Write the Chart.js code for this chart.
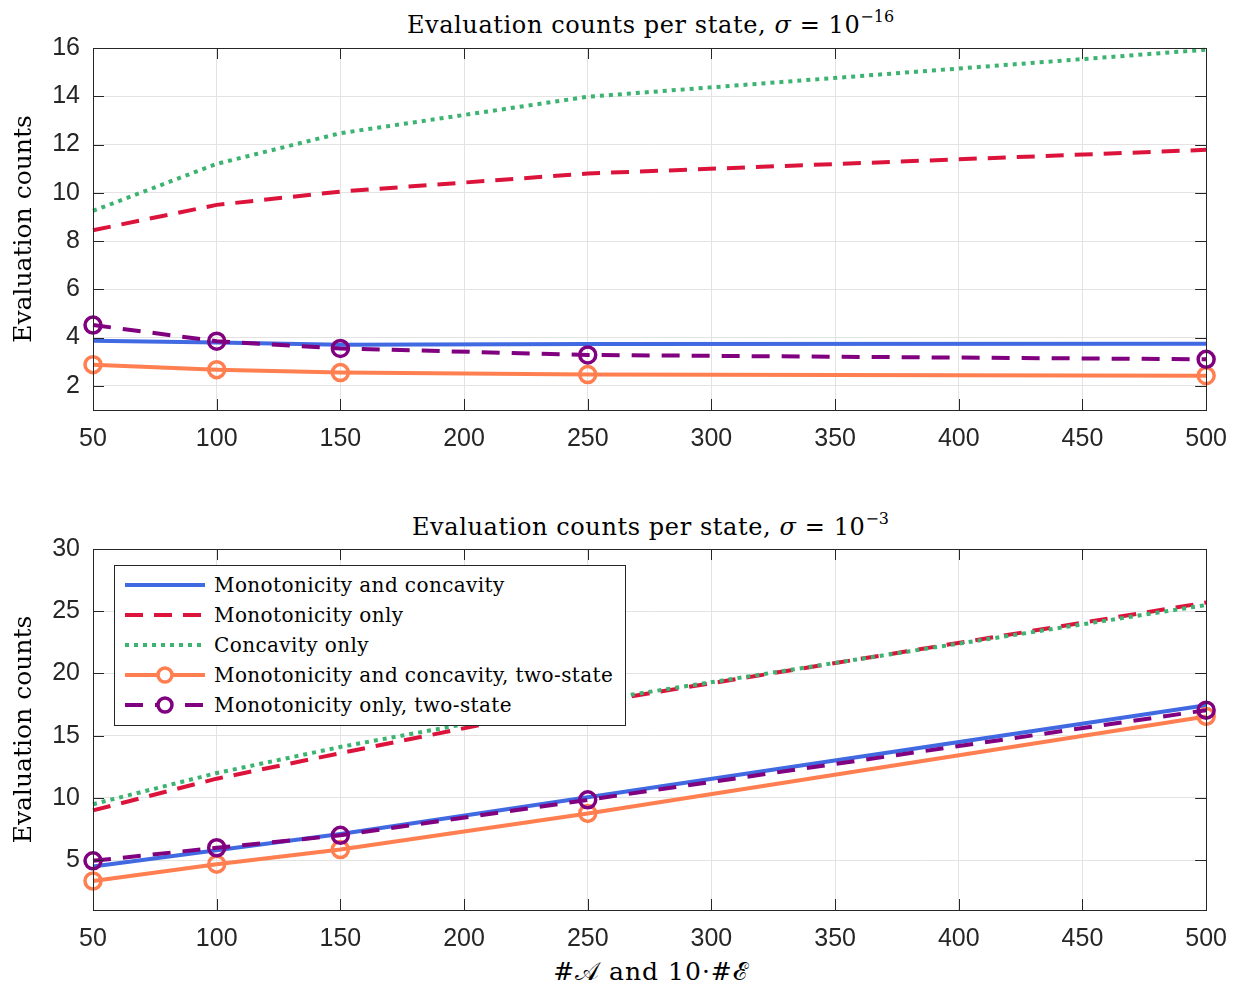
<!DOCTYPE html>
<html>
<head>
<meta charset="utf-8">
<script src="https://cdn.jsdelivr.net/npm/chart.js@4"></script>
<style>
  body { margin: 0; background: #fff; width: 1241px; height: 990px; position: relative; overflow: hidden; }
  .box { position: absolute; left: 0; width: 1241px; }
  .ttl { position: absolute; left: 93px; width: 1115px; text-align: center; font-family: 'DejaVu Serif', serif; font-size: 24px; letter-spacing: 0.6px; line-height: 28px; color: #000; }
  .ttl sup { font-size: 16px; vertical-align: 11px; line-height: 0; letter-spacing: 0; }
  #legend { position: absolute; left: 114px; top: 565px; width: 510px; height: 159px; border: 1px solid #262626; background: #fff; font-family: 'DejaVu Serif', serif; font-size: 20px; letter-spacing: 0.4px; }
  .row { position: absolute; left: 0; height: 30px; display: flex; align-items: center; }
  .row svg { margin-left: 10px; margin-right: 9px; }
</style>
</head>
<body>
<div class="ttl" style="top:11px">Evaluation counts per state, <i>σ</i> = 10<sup>−16</sup></div>
<div class="box" style="top:0; height:460px"><canvas id="topChart"></canvas></div>
<div class="ttl" style="top:513px">Evaluation counts per state, <i>σ</i> = 10<sup>−3</sup></div>
<div class="box" style="top:500px; height:455px"><canvas id="bottomChart"></canvas></div>
<div class="ttl" style="top:958px; font-size:25px; letter-spacing:1px">#𝒜 and 10·#ℰ</div>
<div id="legend"></div>
<script>
const xValues = [50, 100, 150, 250, 500];
const xTicks = [50, 100, 150, 200, 250, 300, 350, 400, 450, 500];

// sigma = 1e-16
const topBoth = [3.87, 3.8, 3.7, 3.73, 3.74];
const topMono = [8.45, 9.5, 10.05, 10.8, 11.78];
const topConc = [9.25, 11.2, 12.47, 13.98, 15.93];
const topBothTwo = [2.88, 2.67, 2.55, 2.47, 2.42];
const topMonoTwo = [4.52, 3.85, 3.55, 3.28, 3.1];
const topYTicks = [2, 4, 6, 8, 10, 12, 14, 16];

// sigma = 1e-3
const botBoth = [4.5, 5.8, 7.1, 10.05, 17.45];
const botMono = [9.0, 11.55, 13.6, 17.6, 25.7];
const botConc = [9.5, 12.0, 14.1, 17.75, 25.5];
const botBothTwo = [3.33, 4.68, 5.86, 8.76, 16.55];
const botMonoTwo = [4.95, 6.0, 7.0, 9.85, 17.05];
const botYTicks = [5, 10, 15, 20, 25, 30];

const names = ['Monotonicity and concavity', 'Monotonicity only', 'Concavity only',
  'Monotonicity and concavity, two-state', 'Monotonicity only, two-state'];
const colors = ['#4169E1', '#DC143C', '#3CB371', '#FF7F50', '#800080'];
const dashes = [[], [18, 11], [4, 5], [], [18, 12]];
const markers = [false, false, false, true, true];

function makeSets(series) {
  return series.map((vals, i) => ({
    label: names[i],
    data: vals.map((v, j) => ({ x: xValues[j], y: v })),
    borderColor: colors[i],
    borderWidth: 4,
    borderDash: dashes[i],
    pointRadius: markers[i] ? 8 : 0,
    pointBorderWidth: 3.5,
    pointBackgroundColor: 'rgba(0,0,0,0)',
    pointBorderColor: colors[i],
    tension: 0,
    clip: false
  })).reverse();
}

// MATLAB-like box with inward ticks
const boxPlugin = {
  id: 'box',
  afterDraw(chart) {
    const { ctx, chartArea: a, scales } = chart;
    ctx.save();
    ctx.strokeStyle = '#262626';
    ctx.lineWidth = 1;
    ctx.beginPath();
    scales.x.ticks.forEach(t => {
      const px = Math.round(scales.x.getPixelForValue(t.value)) + 0.5;
      ctx.moveTo(px, a.bottom); ctx.lineTo(px, a.bottom - 11);
      ctx.moveTo(px, a.top); ctx.lineTo(px, a.top + 11);
    });
    scales.y.ticks.forEach(t => {
      const py = Math.round(scales.y.getPixelForValue(t.value)) + 0.5;
      ctx.moveTo(a.left, py); ctx.lineTo(a.left + 11, py);
      ctx.moveTo(a.right, py); ctx.lineTo(a.right - 11, py);
    });
    ctx.stroke();
    ctx.strokeRect(Math.round(a.left) + 0.5, Math.round(a.top) + 0.5, Math.round(a.right - a.left), Math.round(a.bottom - a.top));
    ctx.restore();
  }
};

function makeChart(id, series, yMin, yMax, yTicks, padTop, xHeight) {
  new Chart(document.getElementById(id), {
    type: 'line',
    data: { datasets: makeSets(series) },
    plugins: [boxPlugin],
    options: {
      responsive: true,
      maintainAspectRatio: false,
      animation: false,
      layout: { padding: { top: padTop, right: 33, left: 0, bottom: 0 } },
      plugins: { legend: { display: false }, tooltip: { enabled: false } },
      scales: {
        x: {
          type: 'linear', min: 50, max: 500,
          afterBuildTicks: s => { s.ticks = xTicks.map(v => ({ value: v })); },
          afterFit: s => { s.height = xHeight; },
          grid: { color: '#e3e3e3', drawTicks: false },
          border: { display: false },
          ticks: { padding: 14, color: '#262626', font: { family: 'Liberation Sans, Arial', size: 25 }, maxRotation: 0 }
        },
        y: {
          min: yMin, max: yMax,
          afterBuildTicks: s => { s.ticks = yTicks.map(v => ({ value: v })); },
          afterFit: s => { s.width = 93; },
          grid: { color: '#e3e3e3', drawTicks: false },
          border: { display: false },
          ticks: { padding: 13, color: '#262626', font: { family: 'Liberation Sans, Arial', size: 25 } },
          title: { display: true, text: 'Evaluation counts', color: '#000', padding: { top: 9, bottom: 0 },
            font: { family: 'DejaVu Serif, serif', size: 25, weight: 'normal' } }
        }
      }
    }
  });
}

makeChart('topChart', [topBoth, topMono, topConc, topBothTwo, topMonoTwo], 1, 16, topYTicks, 48, 50);
makeChart('bottomChart', [botBoth, botMono, botConc, botBothTwo, botMonoTwo], 1, 30, botYTicks, 49, 45);

// legend drawn as html
const leg = document.getElementById('legend');
names.forEach((n, i) => {
  const row = document.createElement('div');
  row.className = 'row';
  row.style.top = (4 + i * 30) + 'px';
  const dash = dashes[i].length ? `stroke-dasharray="${dashes[i].join(' ')}"` : '';
  const circ = markers[i] ? `<circle cx="40" cy="10" r="7" fill="#fff" stroke="${colors[i]}" stroke-width="3.5"/>` : '';
  row.innerHTML = `<svg width="80" height="20"><line x1="0" y1="10" x2="80" y2="10" stroke="${colors[i]}" stroke-width="4" ${dash}/>${circ}</svg><span>${n}</span>`;
  leg.appendChild(row);
});
</script>
</body>
</html>
